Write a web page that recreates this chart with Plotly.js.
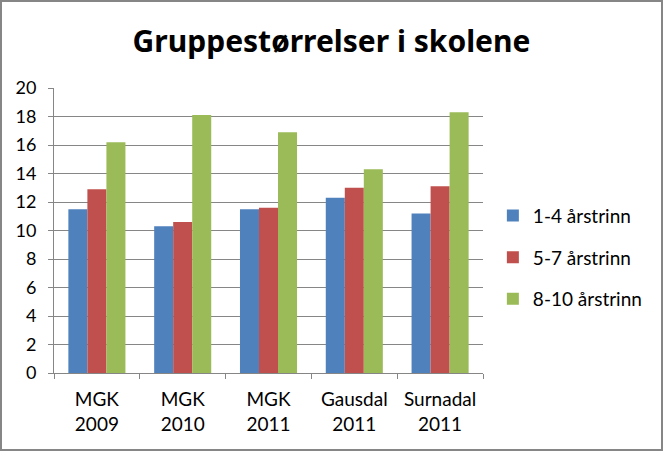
<!DOCTYPE html>
<html>
<head>
<meta charset="utf-8">
<script src="https://cdn.plot.ly/plotly-3.0.1.min.js"></script>
<style>
  html, body { margin: 0; padding: 0; background: #fff; }
  #wrap { position: relative; width: 663px; height: 451px; }
  #chart { width: 663px; height: 451px; }
  #frame { position: absolute; left: 0; top: 0; width: 663px; height: 451px; box-sizing: border-box; border: 2px solid #868686; pointer-events: none; }
</style>
</head>
<body>
<div id="wrap"><div id="chart"></div><div id="frame"></div></div>
<script>
const categories = ["MGK<br>2009", "MGK<br>2010", "MGK<br>2011", "Gausdal<br>2011", "Surnadal<br>2011"];
const seriesNames = ["1-4 årstrinn", "5-7 årstrinn", "8-10 årstrinn"];
const grade1to4 = [11.5, 10.3, 11.5, 12.3, 11.2];
const grade5to7 = [12.9, 10.6, 11.6, 13.0, 13.1];
const grade8to10 = [16.2, 18.1, 16.9, 14.3, 18.3];
const yTicks = [0, 2, 4, 6, 8, 10, 12, 14, 16, 18, 20];

const colors = ["#4F81BD", "#C0504D", "#9BBB59"];
const values = [grade1to4, grade5to7, grade8to10];
const font = "Lato, 'Open Sans', sans-serif";

const traces = values.map((v, i) => ({
  type: "bar",
  name: seriesNames[i],
  x: categories,
  y: v,
  marker: { color: colors[i] },
  legendgroup: "g" + i,
  hoverinfo: "none"
}));

const layout = {
  width: 663,
  height: 451,
  margin: { l: 54, r: 180, t: 88, b: 78 },
  paper_bgcolor: "#fff",
  plot_bgcolor: "#fff",
  barmode: "group",
  bargap: 0.335,
  bargroupgap: 0,
  title: {
    text: "<b>Gruppestørrelser i skolene</b>",
    font: { family: "'Noto Sans', sans-serif", size: 30, color: "#000" },
    x: 0.5, xref: "container", xanchor: "center",
    y: 1 - 41 / 451, yref: "container", yanchor: "middle"
  },
  xaxis: {
    type: "category",
    showline: true, linecolor: "#868686", linewidth: 1,
    ticks: "outside", tickson: "boundaries", ticklen: 5, tickcolor: "#868686",
    tickfont: { family: font, size: 19, color: "#000" },
    ticklabelstandoff: 9,
    showgrid: false, fixedrange: true
  },
  yaxis: {
    range: [0, 20],
    tickvals: yTicks,
    ticktext: yTicks.map(String),
    showline: true, linecolor: "#868686", linewidth: 1,
    ticks: "outside", ticklen: 5, tickcolor: "#868686",
    gridcolor: "#868686", gridwidth: 1,
    zeroline: false,
    tickfont: { family: font, size: 18, color: "#000" },
    ticklabelstandoff: 8,
    fixedrange: true
  },
  showlegend: true,
  legend: {
    x: 1.023, xanchor: "left",
    y: 0.405, yanchor: "middle",
    font: { family: font, size: 19, color: "#000" },
    traceorder: "grouped",
    tracegroupgap: 14,
    itemwidth: 30,
    bgcolor: "rgba(0,0,0,0)"
  }
};

Plotly.newPlot("chart", traces, layout, { displayModeBar: false, staticPlot: true });
</script>
</body>
</html>
